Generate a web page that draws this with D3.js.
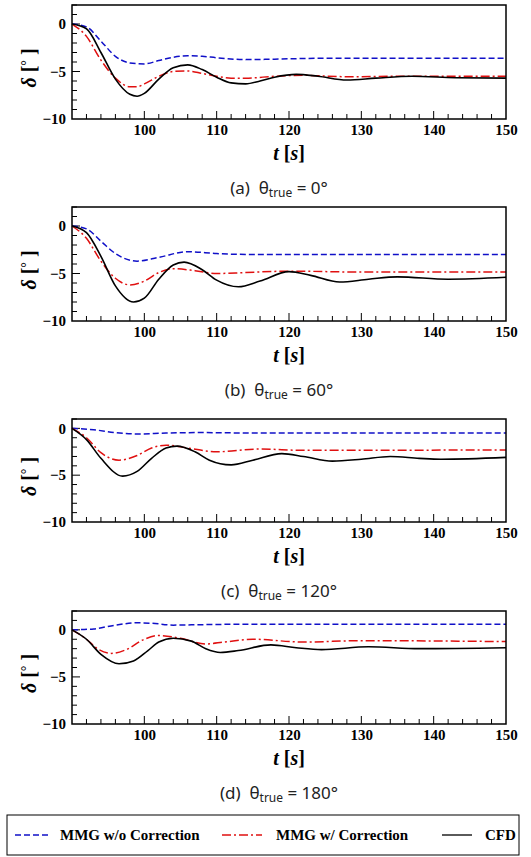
<!DOCTYPE html><html><head><meta charset="utf-8">
<script src="https://cdn.jsdelivr.net/npm/d3@7"></script>
<style>body{margin:0;background:#fff}</style></head><body>
<svg id="c" width="531" height="857"></svg>
<script>
const xTicks=[100,110,120,130,140,150];
const yTicks=[0,-5,-10];
const captions=["(a)","(b)","(c)","(d)"];
const angles=["0°","60°","120°","180°"];
const seriesNames=["MMG w/o Correction","MMG w/ Correction","CFD"];
// [t, delta] pairs per panel
const blueA=[[90,0],[92,-0.3],[94,-1.8],[96,-3.4],[98,-4.1],[100,-4.2],[102,-3.85],[104,-3.5],[106,-3.35],[108,-3.4],[110,-3.55],[114,-3.75],[118,-3.7],[125,-3.6],[150,-3.6]];
const redA=[[90,0],[92,-1.3],[94,-3.8],[96,-5.7],[98,-6.6],[99,-6.6],[100,-6.3],[102,-5.5],[104,-5.0],[106,-4.95],[108,-5.2],[110,-5.5],[112,-5.7],[114,-5.7],[118,-5.5],[122,-5.4],[128,-5.55],[135,-5.5],[150,-5.5]];
const cfdA=[[90,0],[92,-0.5],[94,-3],[96,-5.8],[98,-7.4],[99,-7.6],[100,-7.3],[102,-5.8],[104,-4.6],[106,-4.3],[108,-4.8],[110,-5.6],[112,-6.2],[114,-6.3],[116,-6.0],[118,-5.6],[121,-5.3],[124,-5.5],[128,-5.9],[132,-5.7],[137,-5.5],[143,-5.65],[150,-5.7]];
const blueB=[[90,0],[92,-0.3],[94,-1.6],[96,-2.9],[99,-3.7],[102,-3.3],[106,-2.7],[110,-2.9],[115,-3.0],[150,-3.0]];
const redB=[[90,0],[92,-1.3],[94,-3.7],[96,-5.5],[98,-6.2],[100,-5.8],[102,-4.9],[104,-4.5],[107,-4.7],[110,-5.0],[114,-4.9],[120,-4.75],[130,-4.85],[150,-4.85]];
const cfdB=[[90,0],[92,-0.7],[94,-3.2],[96,-6.3],[98.5,-8.0],[100,-7.6],[102,-5.6],[104,-4.1],[105.5,-3.8],[108,-4.6],[110,-5.7],[113,-6.4],[116,-5.8],[120,-4.8],[123,-5.2],[127,-5.9],[131,-5.6],[135,-5.35],[142,-5.6],[150,-5.4]];
const blueC=[[90,0],[93,-0.15],[96,-0.45],[99,-0.6],[103,-0.5],[108,-0.45],[115,-0.5],[150,-0.5]];
const redC=[[90,0],[92,-1.0],[94,-2.6],[96.5,-3.4],[99,-2.9],[101,-2.1],[103,-1.8],[106,-2.1],[110,-2.5],[116,-2.2],[122,-2.35],[150,-2.3]];
const cfdC=[[90,0],[92,-1.2],[94,-3.2],[97,-5.1],[99,-4.6],[101,-3.2],[103,-2.1],[104.5,-1.9],[107,-2.5],[109,-3.4],[112,-3.9],[115,-3.4],[119,-2.7],[122,-3.0],[126,-3.5],[130,-3.3],[134,-3.0],[138,-3.2],[141,-3.3],[150,-3.1]];
const blueD=[[90,0],[93,0.1],[96,0.5],[99,0.75],[101,0.7],[104,0.5],[108,0.55],[115,0.6],[150,0.6]];
const redD=[[90,0],[92,-1.0],[93.5,-2.0],[95.5,-2.5],[97.5,-2.1],[100,-1.0],[102,-0.6],[105,-0.9],[108.5,-1.5],[111,-1.3],[115,-1.0],[122,-1.3],[130,-1.15],[150,-1.25]];
const cfdD=[[90,0],[92,-1.0],[94,-2.6],[96.5,-3.6],[98.5,-3.3],[100.5,-2.2],[102,-1.3],[104,-0.9],[106.5,-1.2],[108.5,-2.0],[110.5,-2.4],[113,-2.2],[117.5,-1.6],[121,-1.9],[124.5,-2.1],[131,-1.8],[138,-2.0],[150,-1.9]];
const panels=[
 {top:5,bottom:119,ymax:2,s:[blueA,redA,cfdA]},
 {top:207,bottom:321,ymax:2,s:[blueB,redB,cfdB]},
 {top:419,bottom:522,ymax:1,s:[blueC,redC,cfdC]},
 {top:611,bottom:724,ymax:2,s:[blueD,redD,cfdD]}];
const styles=[{c:"#1010c8",d:"6,3",w:1.5},{c:"#e01010",d:"9,3,2,3",w:1.5},{c:"#000",d:null,w:1.6}];
const svg=d3.select("#c");
const L=72,R=506;
const x=d3.scaleLinear().domain([90,150]).range([L,R]);
panels.forEach((p,i)=>{
  const y=d3.scaleLinear().domain([-10,p.ymax]).range([p.bottom,p.top]);
  const g=svg.append("g");
  d3.range(92,150,2).forEach(t=>{const len=t%10===0?8:5;
    g.append("line").attr("x1",x(t)).attr("x2",x(t)).attr("y1",p.bottom).attr("y2",p.bottom-len).attr("stroke","#000");});
  d3.range(-9,p.ymax+0.01,1).forEach(v=>{const len=v%5===0?8:5;
    g.append("line").attr("x1",L).attr("x2",L+len).attr("y1",y(v)).attr("y2",y(v)).attr("stroke","#000");});
  const line=d3.line().x(d=>x(d[0])).y(d=>y(d[1])).curve(d3.curveMonotoneX);
  p.s.forEach((data,k)=>{const st=styles[k];
    g.append("path").datum(data).attr("d",line).attr("fill","none").attr("stroke",st.c).attr("stroke-width",st.w).attr("stroke-dasharray",st.d);});
  g.append("rect").attr("x",L).attr("y",p.top).attr("width",R-L).attr("height",p.bottom-p.top).attr("fill","none").attr("stroke","#000").attr("stroke-width",1.5);
  const xa=g.append("g").attr("transform",`translate(0,${p.bottom})`).call(d3.axisBottom(x).tickValues(xTicks).tickSize(0).tickPadding(5).tickFormat(d3.format("d")));
  xa.select(".domain").remove();
  xa.selectAll("text").attr("font-family","Liberation Serif").attr("font-weight","bold").attr("font-size",15).attr("fill","#000");
  const ya=g.append("g").attr("transform",`translate(${L},0)`).call(d3.axisLeft(y).tickValues(yTicks).tickSize(0).tickPadding(6).tickFormat(d=>d<0?"\u2212"+(-d):d));
  ya.select(".domain").remove();
  ya.selectAll("text").attr("font-family","Liberation Serif").attr("font-weight","bold").attr("font-size",15).attr("fill","#000");
  g.append("text").attr("x",(L+R)/2).attr("y",p.bottom+41).attr("text-anchor","middle").attr("font-family","Liberation Serif").attr("font-weight","bold").attr("font-size",20)
   .html('<tspan font-style="italic">t</tspan> [<tspan font-style="italic">s</tspan>]');
  g.append("text").attr("transform",`translate(36,${(p.top+p.bottom)/2+6}) rotate(-90)`).attr("text-anchor","middle").attr("font-family","Liberation Serif").attr("font-weight","bold").attr("font-size",20)
   .html('<tspan font-style="italic">δ</tspan> [<tspan dy="-5" font-size="14">°</tspan><tspan dy="5"> ]</tspan>');
  g.append("text").attr("x",(L+R)/2-10).attr("y",p.bottom+75).attr("text-anchor","middle").attr("font-family","Noto Sans").attr("font-size",17).attr("fill","#222").attr("xml:space","preserve")
   .html(`${captions[i]}\u00a0\u00a0θ<tspan font-size="12" dy="3">true</tspan><tspan dy="-3"> = ${angles[i]}</tspan>`);
});
const lg=svg.append("g");
lg.append("rect").attr("x",7).attr("y",815).attr("width",512).attr("height",40).attr("fill","#fff").attr("stroke","#000");
const lx=[[15,48,60],[222,262,276],[442,472,485]];
seriesNames.forEach((n,k)=>{const st=styles[k];
  lg.append("line").attr("x1",lx[k][0]).attr("x2",lx[k][1]).attr("y1",835).attr("y2",835).attr("stroke",st.c).attr("stroke-width",1.3).attr("stroke-dasharray",st.d);
  lg.append("text").attr("x",lx[k][2]).attr("y",840).attr("font-family","Liberation Serif").attr("font-weight","bold").attr("font-size",15).text(n);});
</script></body></html>
